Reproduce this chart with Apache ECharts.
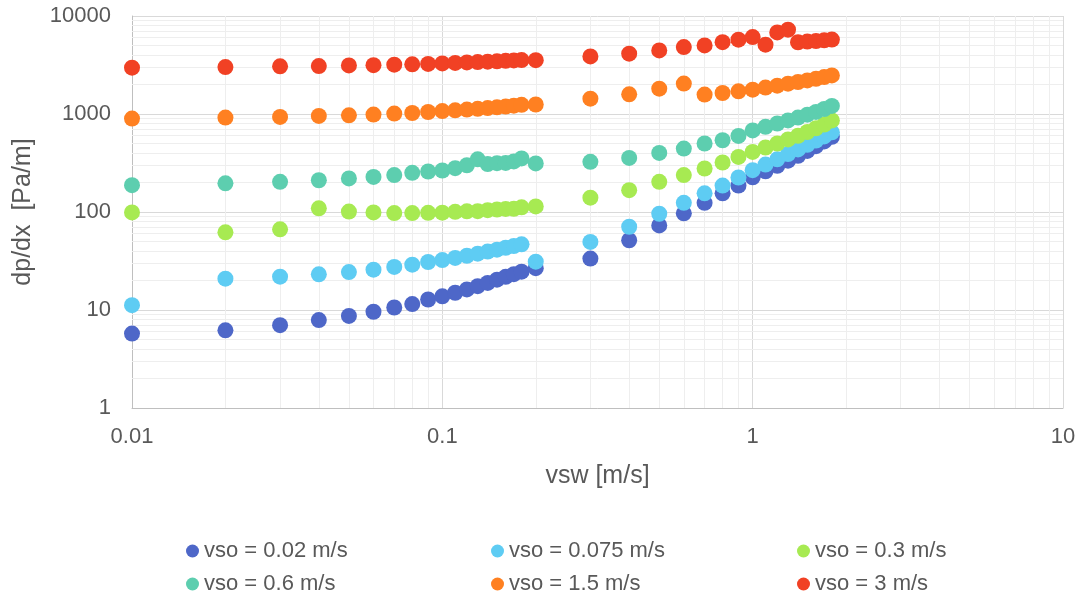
<!DOCTYPE html>
<html>
<head>
<meta charset="utf-8">
<script src="https://cdn.jsdelivr.net/npm/echarts@6/dist/echarts.min.js"></script>
<style>
  html, body { margin: 0; padding: 0; background: #ffffff; }
  #chart { width: 1083px; height: 596px; }
</style>
</head>
<body>
<div id="chart"></div>
<script>
// Superficial water velocity [m/s]
const vsw = [0.01, 0.02, 0.03, 0.04, 0.05, 0.06, 0.07, 0.08, 0.09, 0.1,
  0.11, 0.12, 0.13, 0.14, 0.15, 0.16, 0.17, 0.18,
  0.2,
  0.3, 0.4, 0.5, 0.6, 0.7, 0.8, 0.9,
  1.0, 1.1, 1.2, 1.3, 1.4, 1.5, 1.6, 1.7, 1.8];

// Pressure gradient dp/dx [Pa/m] for each superficial oil velocity
const dp_vso_002 = [5.75, 6.2, 7.0, 7.9, 8.7, 9.6, 10.6, 11.5, 12.8, 13.8,
  15.0, 16.2, 17.5, 18.9, 20.4, 21.8, 23.2, 24.6,
  26.7,
  33.5, 51.5, 73, 97, 124, 155, 186,
  226, 260, 296, 334, 375, 420, 470, 525, 585];
const dp_vso_0075 = [11.2, 20.9, 21.9, 23.1, 24.4, 25.8, 27.5, 29.0, 30.9, 32.3,
  34.0, 35.8, 37.6, 39.5, 41.3, 43.2, 45.0, 46.8,
  31.1,
  49.5, 70.7, 96, 124, 155, 186, 225,
  267, 305, 345, 390, 435, 485, 535, 590, 650];
const dp_vso_03 = [99, 62, 66.5, 109, 101, 99, 97.5, 97.5, 98, 98.5,
  100.5, 101.5, 102, 104.5, 106, 107.5, 108, 111.5,
  114,
  140, 167, 203, 238, 278, 320, 365,
  410, 455, 500, 550, 600, 655, 715, 780, 860];
const dp_vso_06 = [188, 196, 203, 211, 220, 228, 238, 251, 259, 265,
  280, 300, 345, 308, 315, 317, 328, 352,
  313,
  325, 356, 401, 444, 500, 540, 597,
  680, 740, 800, 860, 920, 985, 1050, 1125, 1210];
const dp_vso_15 = [898, 919, 933, 955, 970, 986, 1009, 1024, 1048, 1070,
  1090, 1110, 1130, 1150, 1170, 1190, 1215, 1240,
  1250,
  1435, 1588, 1815, 2042, 1577, 1637, 1702,
  1771, 1860, 1945, 2040, 2120, 2200, 2290, 2380, 2478];
const dp_vso_3 = [2967, 3013, 3062, 3085, 3133, 3150, 3185, 3210, 3245, 3285,
  3320, 3360, 3385, 3420, 3445, 3490, 3520, 3550,
  3540,
  3870, 4123, 4456, 4820, 5012, 5410, 5740,
  6100, 5100, 6800, 7250, 5400, 5480, 5560, 5650, 5750];

const seriesNames = ['vso = 0.02 m/s', 'vso = 0.075 m/s', 'vso = 0.3 m/s',
  'vso = 0.6 m/s', 'vso = 1.5 m/s', 'vso = 3 m/s'];
const seriesValues = [dp_vso_002, dp_vso_0075, dp_vso_03, dp_vso_06, dp_vso_15, dp_vso_3];
const seriesColors = ['#4E67C8', '#5ECCF3', '#A7EA52', '#5DCEAF', '#FF8021', '#F14124'];

// Axis ranges (decades)
const xMin = 0.01, xMax = 10;
const yMin = 1, yMax = 10000;

// Minor gridline positions at 2..9 within each decade
function minorSteps(lo, hi) {
  const out = [];
  for (let d = lo; d < hi; d *= 10) {
    for (let k = 2; k <= 9; k++) out.push(+(d * k).toPrecision(6));
  }
  return out;
}
const xMinor = minorSteps(xMin, xMax);
const yMinor = minorSteps(yMin, yMax);

const FONT = 'Liberation Sans, Arial, sans-serif';
const TXT = '#595959';

const chart = echarts.init(document.getElementById('chart'), null, { renderer: 'canvas' });

const scatterSeries = seriesNames.map((name, i) => ({
  name: name,
  type: 'scatter',
  symbol: 'circle',
  symbolSize: 16,
  itemStyle: { color: seriesColors[i], opacity: 1 },
  emphasis: { disabled: true },
  z: 3,
  data: vsw.map((x, j) => [x, seriesValues[i][j]])
}));

// Light gridlines at the intermediate values of each decade
const minorGrid = {
  name: 'minor-grid',
  type: 'scatter',
  data: [],
  silent: true,
  z: 1,
  markLine: {
    silent: true,
    z: 1,
    symbol: ['none', 'none'],
    label: { show: false },
    animation: false,
    lineStyle: { color: '#eeeeee', width: 1, type: 'solid' },
    data: xMinor.map(v => ({ xAxis: v })).concat(yMinor.map(v => ({ yAxis: v })))
  }
};

// Legend laid out as a 3 x 2 table: one legend component per entry
const legendCols = [181, 486, 792];
const legendRows = [535, 568];
const legendOrder = [[0, 1, 2], [3, 4, 5]];
const legends = [];
legendOrder.forEach((row, r) => {
  row.forEach((si, c) => {
    legends.push({
      orient: 'horizontal',
      left: legendCols[c],
      top: legendRows[r],
      itemWidth: 13,
      itemHeight: 13,
      icon: 'circle',
      data: [seriesNames[si]],
      selectedMode: false,
      textStyle: { color: TXT, fontSize: 22, fontFamily: FONT }
    });
  });
});

chart.setOption({
  animation: false,
  backgroundColor: '#ffffff',
  grid: { left: 132, right: 20, top: 16, bottom: 188, containLabel: false },
  xAxis: {
    type: 'log',
    logBase: 10,
    min: xMin,
    max: xMax,
    name: 'vsw [m/s]',
    nameLocation: 'middle',
    nameGap: 56,
    nameTextStyle: { color: TXT, fontSize: 25, fontFamily: FONT },
    axisLine: { show: true, lineStyle: { color: '#bfbfbf', width: 1 } },
    axisTick: { show: false },
    axisLabel: { color: TXT, fontSize: 22, fontFamily: FONT, margin: 18,
      formatter: v => String(v) },
    splitLine: { show: true, lineStyle: { color: '#d9d9d9', width: 1 } }
  },
  yAxis: {
    type: 'log',
    logBase: 10,
    min: yMin,
    max: yMax,
    name: 'dp/dx  [Pa/m]',
    nameLocation: 'middle',
    nameRotate: 90,
    nameGap: 96,
    nameTextStyle: { color: TXT, fontSize: 25, fontFamily: FONT },
    axisLine: { show: true, lineStyle: { color: '#bfbfbf', width: 1 } },
    axisTick: { show: false },
    axisLabel: { color: TXT, fontSize: 22, fontFamily: FONT, margin: 21,
      formatter: v => String(v) },
    splitLine: { show: true, lineStyle: { color: '#d9d9d9', width: 1 } }
  },
  legend: legends,
  series: [minorGrid].concat(scatterSeries)
});
</script>
</body>
</html>
